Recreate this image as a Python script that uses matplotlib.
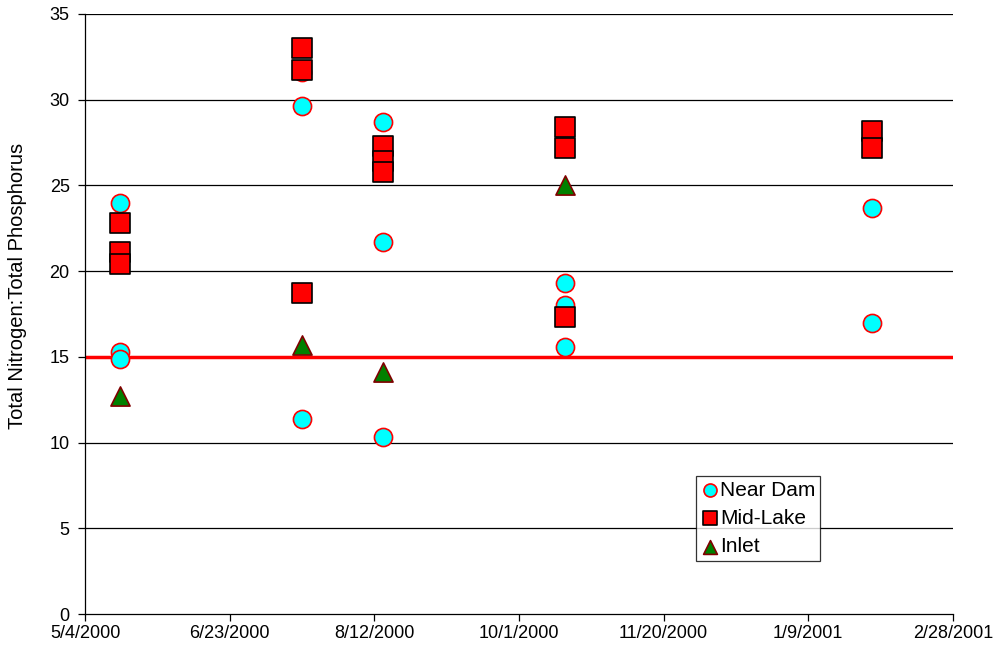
import datetime as dt
import matplotlib
matplotlib.use("Agg")
import matplotlib.pyplot as plt
import matplotlib.dates as mdates
from matplotlib.ticker import FuncFormatter

plt.rcParams['font.family'] = ['Liberation Sans', 'DejaVu Sans']

D = dt.date
near_dam_dates = [D(2000, 5, 16)] * 3 + [D(2000, 7, 18)] * 3 + [D(2000, 8, 15)] * 3 + \
                 [D(2000, 10, 17)] * 3 + [D(2001, 1, 31)] * 2
near_dam_values = [24.0, 15.3, 14.9,
                   31.6, 29.6, 11.4,
                   28.7, 21.7, 10.3,
                   19.3, 18.0, 15.6,
                   23.7, 17.0]

mid_lake_dates = [D(2000, 5, 16)] * 3 + [D(2000, 7, 18)] * 3 + [D(2000, 8, 15)] * 3 + \
                 [D(2000, 10, 17)] * 3 + [D(2001, 1, 31)] * 2
mid_lake_values = [22.8, 21.1, 20.4,
                   33.0, 31.7, 18.7,
                   27.3, 26.4, 25.8,
                   28.4, 27.2, 17.3,
                   28.2, 27.2]

inlet_dates = [D(2000, 5, 16), D(2000, 7, 18), D(2000, 8, 15), D(2000, 10, 17)]
inlet_values = [12.7, 15.7, 14.1, 25.0]

threshold = 15
x_start = D(2000, 5, 4)
x_end = D(2001, 2, 28)
tick_step_days = 50
y_ticks = [0, 5, 10, 15, 20, 25, 30, 35]

fig = plt.figure(figsize=(9.93, 6.53), dpi=100)
ax = fig.add_axes([0.0856, 0.0597, 0.874, 0.919])

for y in y_ticks[1:]:
    ax.axhline(y, color='black', lw=0.9, zorder=0)

ax.axhline(threshold, color='#ff0000', lw=2.5, zorder=1)

ax.scatter(near_dam_dates, near_dam_values, marker='o', s=170,
           facecolor='#00ffff', edgecolor='#ff0000', linewidths=1.2,
           zorder=3, label='Near Dam')
ax.scatter(mid_lake_dates, mid_lake_values, marker='s', s=200,
           facecolor='#ff0000', edgecolor='black', linewidths=1.2,
           zorder=4, label='Mid-Lake')
ax.scatter(inlet_dates, inlet_values, marker='^', s=190,
           facecolor='#008000', edgecolor='#800000', linewidths=1.2,
           zorder=5, label='Inlet')

ax.set_xlim(mdates.date2num(x_start), mdates.date2num(x_end))
ax.set_ylim(0, 35)
ticks = [mdates.date2num(x_start) + i * tick_step_days for i in range(7)]
ax.set_xticks(ticks)
ax.xaxis.set_major_formatter(FuncFormatter(
    lambda v, p: (lambda d: f"{d.month}/{d.day}/{d.year}")(mdates.num2date(v))))
ax.set_yticks(y_ticks)

for side in ['top', 'right']:
    ax.spines[side].set_visible(False)
for side in ['left', 'bottom']:
    ax.spines[side].set_color('black')
    ax.spines[side].set_linewidth(0.9)

ax.tick_params(axis='both', direction='out', length=5, width=0.9,
               labelsize=13, colors='black')
ax.tick_params(axis='x', pad=3)
ax.tick_params(axis='y', pad=6)
ax.set_ylabel('Total Nitrogen:Total Phosphorus', fontsize=14.5)
ax.yaxis.set_label_coords(-0.067, 0.547)

leg = ax.legend(loc='upper left', bbox_to_anchor=(0.704, 0.23),
                fontsize=15, frameon=True, fancybox=False,
                edgecolor='black', markerscale=0.72, handletextpad=0.05,
                handlelength=0.9, borderpad=0.22, labelspacing=0.45,
                borderaxespad=0)
leg.get_frame().set_linewidth(0.9)
leg.set_zorder(6)

fig.savefig('out.png', dpi=100)
